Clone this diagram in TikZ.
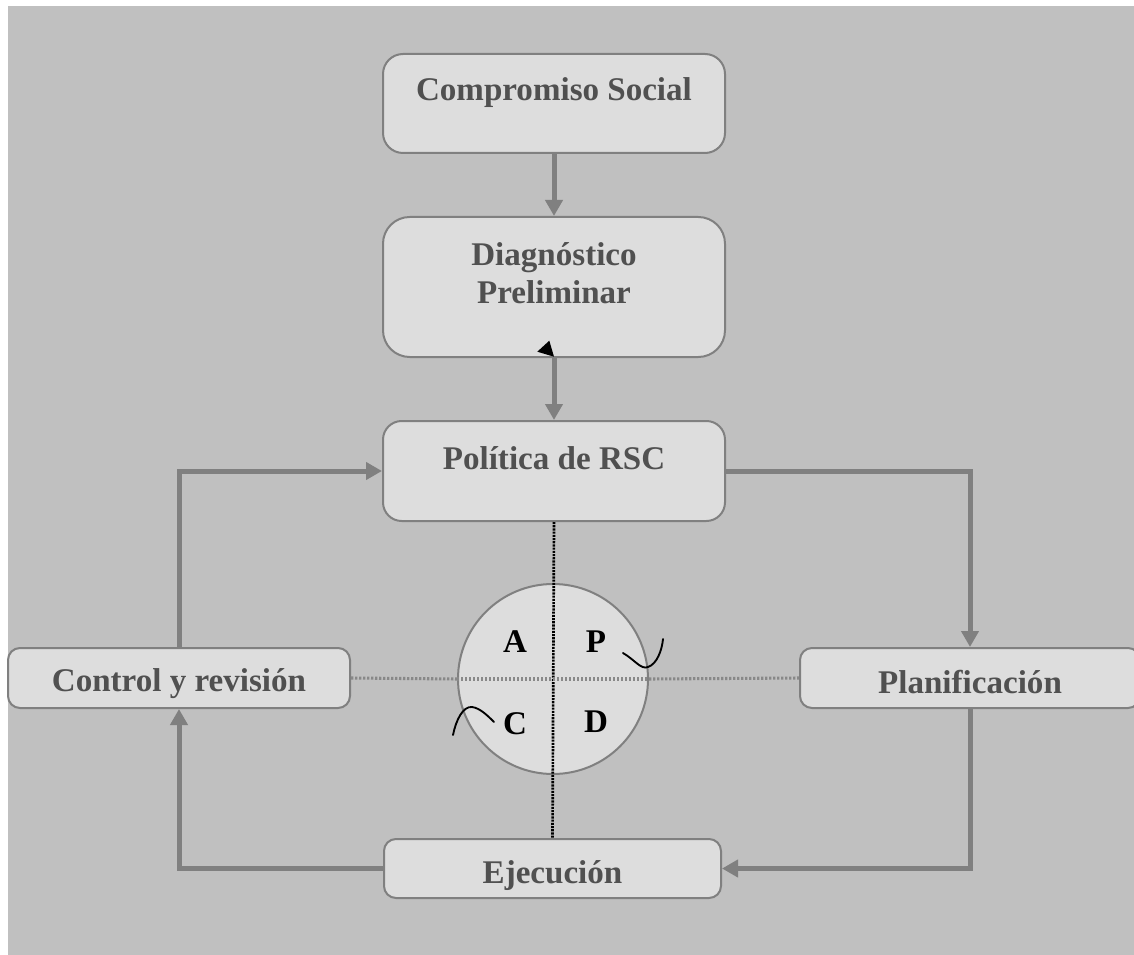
\documentclass[tikz,border=0pt]{standalone}
\usepackage{fontspec}
\setmainfont{Liberation Serif}
\usetikzlibrary{arrows.meta}
\definecolor{bgray}{RGB}{192,192,192}
\definecolor{boxfill}{RGB}{221,221,221}
\definecolor{edgegray}{RGB}{128,128,128}
\definecolor{txtgray}{RGB}{80,80,80}
\definecolor{dotgray}{RGB}{136,136,136}
\tikzset{
  stagebox/.style={draw=edgegray, line width=1.5pt, fill=boxfill, rectangle, inner sep=0pt},
  txt/.style={font=\fontsize{24.8}{28.5}\selectfont\bfseries, text=txtgray, align=center, inner sep=0pt},
  letter/.style={font=\fontsize{24.8}{28.5}\selectfont\bfseries, text=black, inner sep=0pt, anchor=base},
  conn/.style={draw=edgegray, line width=3.75pt, -{Triangle[length=12pt,width=12.75pt]}},
  vdot/.style={draw=black, line width=2pt, dash pattern=on 1.6pt off 0.8pt},
  hdot/.style={draw=dotgray, line width=2.3pt, dash pattern=on 1.7pt off 1.3pt},
  hand/.style={draw=black, line width=1.4pt, line cap=round}
}
\begin{document}
\begin{tikzpicture}[x=0.75pt,y=-0.75pt]
\useasboundingbox (0,0) rectangle (1134,955);
\clip (0,0) rectangle (1134,955);
\fill[white] (-5,-5) rectangle (1140,960);
\fill[bgray] (8,6) rectangle (1140,960);

% PDCA circle
\node[circle, draw=edgegray, line width=1.5pt, fill=boxfill, minimum size=142.5pt, inner sep=0pt] (pdca) at (553,679) {};

% boxes
\node[stagebox, rounded corners=15pt, minimum width=256.5pt, minimum height=74.25pt,
  label={[txt,name=compt,yshift=8.5pt]center:Compromiso Social}] (comp) at (554,103.5) {};
\node[stagebox, rounded corners=20pt, minimum width=256.5pt, minimum height=105pt,
  label={[txt,name=diagt,yshift=10.5pt]center:Diagnóstico\\Preliminar}] (diag) at (554,287) {};
\node[stagebox, rounded corners=14pt, minimum width=256.5pt, minimum height=75pt,
  label={[txt,name=polt,yshift=9.5pt]center:Política de RSC}] (pol) at (554,471) {};
\node[stagebox, rounded corners=9pt, minimum width=256.5pt, minimum height=45pt,
  label={[txt,name=ctrlt,yshift=-4.5pt]center:Control y revisión}] (ctrl) at (179,678) {};
\node[stagebox, rounded corners=9pt, minimum width=255pt, minimum height=45pt,
  label={[txt,name=plant,yshift=-3pt]center:Planificación}] (plan) at (970,678) {};
\node[stagebox, rounded corners=9pt, minimum width=252.75pt, minimum height=44.25pt,
  label={[txt,name=eject,yshift=-5pt]center:Ejecución}] (ejec) at (552.5,868.5) {};

% dotted axes
\draw[vdot] (pol.south) -- (ejec.north);
\draw[hdot] (ctrl.east) -- (pdca.west);
\draw[hdot] (pdca.west) -- (pdca.east);
\draw[hdot] (pdca.east) -- (plan.west);

% connectors
\draw[conn] (comp.south) -- (diag.north);
\draw[conn] (diag.south) -- (pol.north);
\draw[conn] (ctrl.north) |- (pol.west);
\draw[conn] (pol.east) -| (plan.north);
\draw[conn] (plan.south) |- (ejec.east);
\draw[conn] (ejec.west) -| (ctrl.south);

% letters
\node[letter] (la) at (515,652) {A};
\node[letter] (lp) at (596,652) {P};
\node[letter] (lc) at (515,734) {C};
\node[letter] (ld) at (596,732) {D};

% hand-drawn strokes
\draw[hand] (623,653) .. controls (635,660) and (641,670) .. (648,667) .. controls (657,664) and (662,650) .. (663,639);
\draw[hand] (453,735) .. controls (456,720) and (463,706) .. (472,707) .. controls (480,708) and (488,716) .. (494,722);

% stray black arrowhead
\fill[black] (549.3,340.7) -- (537.3,351.7) -- (554,356.7) -- cycle;
\end{tikzpicture}
\end{document}
